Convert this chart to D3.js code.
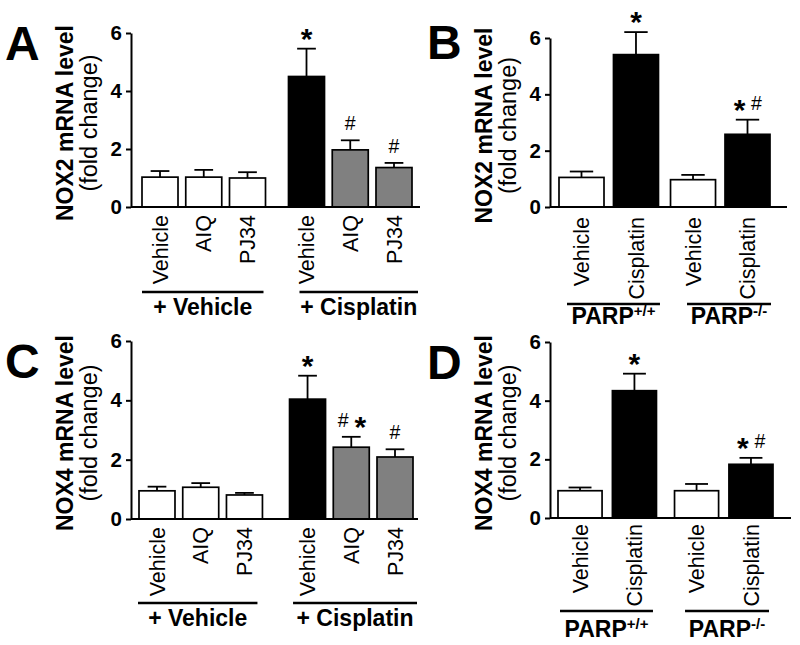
<!DOCTYPE html>
<html>
<head>
<meta charset="utf-8">
<script src="https://cdn.jsdelivr.net/npm/d3@7"></script>
<style>
  html, body { margin: 0; padding: 0; background: #fff; }
  svg { display: block; font-family: "Liberation Sans", Arial, sans-serif; }
</style>
</head>
<body>
<svg id="chart" width="800" height="645"></svg>
<script>
// ---------------- DATA ----------------
const yTicks = [0, 2, 4, 6];
const yDomain = [0, 6];

// Panels A & C: inhibitor study
const groupsAC = ["+ Vehicle", "+ Cisplatin"];
const treatmentsAC = ["Vehicle", "AIQ", "PJ34"];

// Panels B & D: PARP knockout study
const groupsBD = ["PARP+/+", "PARP-/-"];
const groupBaseBD = ["PARP", "PARP"];
const groupSupBD = ["+/+", "-/-"];
const treatmentsBD = ["Vehicle", "Cisplatin"];

// A: NOX2 (fold change), mean and upper error limit
const meansA = [1.03, 1.03, 1.00, 4.50, 1.97, 1.36];
const upperA = [1.24, 1.28, 1.20, 5.46, 2.30, 1.52];
const sigA   = ["", "", "", "*", "#", "#"];

// B: NOX2 PARP+/+ vs PARP-/-
const meansB = [1.05, 5.41, 0.97, 2.58];
const upperB = [1.26, 6.21, 1.14, 3.10];
const sigB   = ["", "*", "", "*#"];

// C: NOX4
const meansC = [0.95, 1.07, 0.81, 4.04, 2.42, 2.09];
const upperC = [1.09, 1.21, 0.88, 4.83, 2.77, 2.35];
const sigC   = ["", "", "", "*", "#*", "#"];

// D: NOX4 PARP+/+ vs PARP-/-
const meansD = [0.93, 4.34, 0.93, 1.83];
const upperD = [1.04, 4.92, 1.16, 2.05];
const sigD   = ["", "*", "", "*#"];

const titleNOX2 = "NOX2 mRNA level";
const titleNOX4 = "NOX4 mRNA level";
const titleSub = "(fold change)";

// ---------------- STYLE / LAYOUT ----------------
const WHITE = "#ffffff", BLACK = "#000000", GREY = "#808080";
const fillAC = (gi, t) => gi === 0 ? WHITE : (t === "Vehicle" ? BLACK : GREY);
const fillBD = (gi, t) => t === "Vehicle" ? WHITE : BLACK;

const panels = [
  { letter: "A", letterX: 5, letterY: 60,
    axisX: 131, y0: 207, y6: 33, barRange: [142, 412], axisEnd: 420,
    groupPad: 0.157, barPad: 0.177,
    groups: groupsAC, treatments: treatmentsAC, means: meansA, upper: upperA, sig: sigA,
    fill: fillAC, title: titleNOX2, titleShift: 3,
    tickLabelY: 215, lineY: 292, labelY: 315,
    lineAdj: [[0, -2], [11, 6]] },
  { letter: "B", letterX: 427, letterY: 59,
    axisX: 550, y0: 207, y6: 38, barRange: [559, 770], axisEnd: 787,
    groupPad: 0.108, barPad: 0.174,
    groups: groupsBD, treatments: treatmentsBD, means: meansB, upper: upperB, sig: sigB,
    fill: fillBD, title: titleNOX2, titleShift: 3, parp: true,
    tickLabelY: 217, lineY: 304, labelY: 324,
    lineAdj: [[8, 1.5], [16.5, 1]] },
  { letter: "C", letterX: 5, letterY: 378,
    axisX: 131, y0: 519, y6: 341, barRange: [139, 413], axisEnd: 418,
    groupPad: 0.18, barPad: 0.177,
    groups: groupsAC, treatments: treatmentsAC, means: meansC, upper: upperC, sig: sigC,
    fill: fillAC, title: titleNOX4, titleShift: 3,
    tickLabelY: 527, lineY: 603, labelY: 626,
    lineAdj: [[-1, -5], [3.5, 4]] },
  { letter: "D", letterX: 427, letterY: 379,
    axisX: 550, y0: 518, y6: 342, barRange: [558, 773], axisEnd: 791,
    groupPad: 0.155, barPad: 0.19,
    groups: groupsBD, treatments: treatmentsBD, means: meansD, upper: upperD, sig: sigD,
    fill: fillBD, title: titleNOX4, titleShift: 3, parp: true,
    tickLabelY: 524, lineY: 611, labelY: 637,
    lineAdj: [[2, -3.5], [10.5, -4]] }
];

const svg = d3.select("#chart");

function drawPanel(p) {
  const g = svg.append("g");
  const y = d3.scaleLinear().domain(yDomain).range([p.y0, p.y6]);
  const outer = d3.scaleBand().domain(p.groups).range(p.barRange)
    .paddingInner(p.groupPad).paddingOuter(0);
  const inner = d3.scaleBand().domain(p.treatments).range([0, outer.bandwidth()])
    .paddingInner(p.barPad).paddingOuter(0);

  const rows = [];
  p.groups.forEach((grp, gi) => p.treatments.forEach((t, ti) => {
    const i = gi * p.treatments.length + ti;
    rows.push({ grp, gi, t, mean: p.means[i], up: p.upper[i], sig: p.sig[i] });
  }));
  const bx = d => outer(d.grp) + inner(d.t);
  const bw = inner.bandwidth();

  // panel letter
  g.append("text").attr("x", p.letterX).attr("y", p.letterY)
    .attr("font-size", 48).attr("font-weight", "bold").text(p.letter);

  // y axis
  const ax = g.append("g").attr("transform", `translate(${p.axisX},0)`)
    .call(d3.axisLeft(y).tickValues(yTicks).tickFormat(d3.format("d")).tickSize(5).tickSizeOuter(0).tickPadding(4));
  ax.select(".domain").attr("stroke", "#000").attr("stroke-width", 2);
  ax.selectAll(".tick line").attr("stroke", "#000").attr("stroke-width", 2);
  ax.selectAll(".tick text").attr("font-size", 20.5).attr("font-weight", "bold")
    .attr("fill", "#000").attr("font-family", "Liberation Sans, Arial, sans-serif");

  // y titles
  const tc = (p.y0 + p.y6) / 2 + p.titleShift;
  g.append("text").attr("transform", `translate(${p.axisX - 58},${tc}) rotate(-90)`)
    .attr("text-anchor", "middle").attr("font-size", 23).attr("font-weight", "bold").text(p.title);
  g.append("text").attr("transform", `translate(${p.axisX - 34},${tc}) rotate(-90)`)
    .attr("text-anchor", "middle").attr("font-size", 23.5).text(titleSub);

  // error bars (upper only)
  const capW = bw * 0.52;
  rows.forEach(d => {
    const cx = bx(d) + bw / 2;
    g.append("line").attr("x1", cx).attr("x2", cx).attr("y1", y(d.mean)).attr("y2", y(d.up))
      .attr("stroke", "#000").attr("stroke-width", 1.8);
    g.append("line").attr("x1", cx - capW / 2).attr("x2", cx + capW / 2).attr("y1", y(d.up)).attr("y2", y(d.up))
      .attr("stroke", "#000").attr("stroke-width", 1.8);
  });

  // bars
  g.selectAll("rect.bar").data(rows).enter().append("rect").attr("class", "bar")
    .attr("x", bx).attr("width", bw)
    .attr("y", d => y(d.mean)).attr("height", d => y(0) - y(d.mean))
    .attr("fill", d => p.fill(d.gi, d.t))
    .attr("stroke", "#000").attr("stroke-width", 1.7);

  // x axis baseline
  g.append("line").attr("x1", p.axisX).attr("x2", p.axisEnd).attr("y1", y(0)).attr("y2", y(0))
    .attr("stroke", "#000").attr("stroke-width", 2);

  // significance marks
  rows.forEach(d => {
    if (!d.sig) return;
    const cx = bx(d) + bw / 2;
    const chars = d.sig.split("");
    const offs = chars.length === 1 ? [0] : [-8, 9];
    const center = y(d.up) - 17;
    chars.forEach((c, k) => {
      if (c === "*") {
        g.append("text").attr("x", cx + offs[k]).attr("y", center + 0.58 * 30)
          .attr("text-anchor", "middle").attr("font-size", 30).attr("font-weight", "bold").text("*");
      } else {
        g.append("text").attr("x", cx + offs[k]).attr("y", center + 0.36 * 19.5)
          .attr("text-anchor", "middle").attr("font-size", 19.5).text("#");
      }
    });
  });

  // x tick labels (rotated)
  rows.forEach(d => {
    const cx = bx(d) + bw / 2;
    g.append("text").attr("transform", `translate(${cx},${p.tickLabelY}) rotate(-90)`)
      .attr("text-anchor", "end").attr("dy", "0.36em").attr("font-size", 21.5).text(d.t);
  });

  // group lines & labels
  p.groups.forEach((grp, gi) => {
    const x1 = outer(grp) + p.lineAdj[gi][0];
    const x2 = outer(grp) + outer.bandwidth() + p.lineAdj[gi][1];
    g.append("line").attr("x1", x1).attr("x2", x2).attr("y1", p.lineY).attr("y2", p.lineY)
      .attr("stroke", "#000").attr("stroke-width", 2.6);
    const t = g.append("text").attr("x", (x1 + x2) / 2).attr("y", p.labelY)
      .attr("text-anchor", "middle").attr("font-size", 23).attr("font-weight", "bold");
    if (p.parp) {
      t.append("tspan").text(groupBaseBD[gi]);
      t.append("tspan").attr("dy", -8).attr("font-size", 15).text(groupSupBD[gi]);
    } else {
      t.text(grp);
    }
  });
}

panels.forEach(drawPanel);
</script>
</body>
</html>
